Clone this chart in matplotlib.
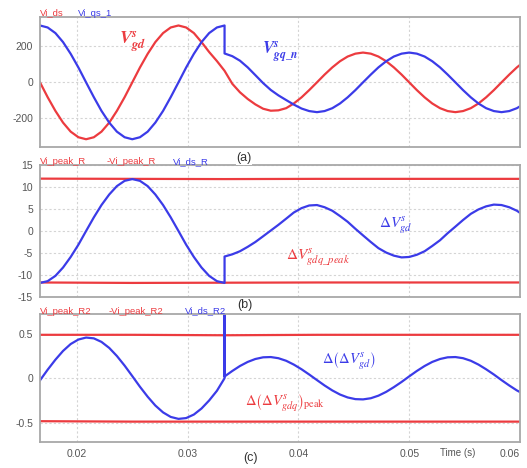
import numpy as np
import matplotlib
matplotlib.use("Agg")
import matplotlib.pyplot as plt

plt.rcParams['font.family'] = ['Liberation Sans', 'DejaVu Sans']
plt.rcParams['axes.unicode_minus'] = False

# ---------------- data ----------------
t_ms = [16.67, 17.36, 18.06, 18.75, 19.44, 20.14, 20.83, 21.53, 22.22, 22.92,
        23.61, 24.31, 25.00, 25.69, 26.39, 27.08, 27.78, 28.47, 29.17, 29.86,
        30.56, 31.25, 31.94, 32.64, 33.33, 33.33, 33.33, 34.03, 34.72, 35.42,
        36.11, 36.81, 37.50, 38.19, 38.89, 39.58, 40.28, 40.97, 41.67, 42.36,
        43.06, 43.75, 44.44, 45.14, 45.83, 46.53, 47.22, 47.92, 48.61, 49.31,
        50.00, 50.69, 51.39, 52.08, 52.78, 53.47, 54.17, 54.86, 55.56, 56.25,
        56.94, 57.64, 58.33, 59.03, 59.72, 60.42]

vi_ds = [0, -82, -158, -223, -273, -304, -315, -304, -273, -223,
         -158, -82, 0, 82, 158, 223, 273, 304, 315, 304,
         273, 223, 168, 118, 64, 64, 64, -8, -55, -92,
         -122, -146, -157, -155, -143, -117, -83, -43, 0, 43,
         83, 117, 143, 159, 165, 159, 143, 117, 83, 43,
         0, -43, -83, -117, -143, -159, -165, -159, -143, -117,
         -83, -43, 0, 43, 83, 117]

vi_qs_1 = [315, 304, 273, 223, 158, 82, 0, -82, -158, -223,
           -273, -304, -315, -304, -273, -223, -158, -82, 0, 82,
           158, 223, 273, 304, 315, 160, 160, 145, 120, 83,
           40, -4, -42, -72, -98, -123, -145, -159, -165, -159,
           -143, -117, -83, -43, 0, 43, 83, 117, 143, 159,
           165, 159, 143, 117, 83, 43, 0, -43, -83, -117,
           -143, -159, -165, -159, -143, -117]

vi_ds_R = [-11.8, -11.4, -10.2, -8.3, -5.9, -3.1, 0, 3.1, 5.9, 8.3,
           10.2, 11.4, 11.8, 11.4, 10.2, 8.3, 5.9, 3.1, 0, -3.1,
           -5.9, -8.3, -10.2, -11.4, -11.8, -5.8, -5.8, -5.3, -4.6, -3.6,
           -2.5, -1.2, 0.1, 1.4, 2.8, 4.2, 5.2, 5.8, 5.9, 5.4,
           4.6, 3.4, 2.1, 0.5, -1.0, -2.5, -3.9, -4.9, -5.6, -6.0,
           -5.9, -5.4, -4.6, -3.4, -2.1, -0.5, 1.0, 2.5, 3.9, 4.9,
           5.6, 6.0, 5.9, 5.4, 4.6, 3.4]

vi_ds_R2 = [-0.024, 0.096, 0.209, 0.308, 0.386, 0.437, 0.459, 0.450, 0.410, 0.342,
            0.251, 0.142, 0.024, -0.096, -0.209, -0.308, -0.386, -0.437, -0.459, -0.450,
            -0.410, -0.342, -0.251, -0.142, 0.0, 0.75, 0.02, 0.082, 0.138, 0.184,
            0.217, 0.236, 0.239, 0.226, 0.197, 0.154, 0.101, 0.042, -0.021, -0.082,
            -0.138, -0.184, -0.217, -0.236, -0.239, -0.226, -0.197, -0.154, -0.101, -0.042,
            0.021, 0.082, 0.138, 0.184, 0.217, 0.236, 0.239, 0.226, 0.197, 0.154,
            0.101, 0.042, -0.021, -0.082, -0.138, -0.184]

t_peak_ms = [16.67, 25.0, 33.33, 41.67, 50.0, 60.42]
vi_peak_R = [11.9, 11.85, 11.8, 11.85, 11.85, 11.85]
neg_vi_peak_R = [-11.7, -11.8, -11.75, -11.7, -11.7, -11.7]
vi_peak_R2 = [0.49, 0.49, 0.485, 0.49, 0.49, 0.49]
neg_vi_peak_R2 = [-0.485, -0.49, -0.49, -0.49, -0.49, -0.49]

xticks = [0.02, 0.03, 0.04, 0.05, 0.06]
xticklabels = ['0.02', '0.03', '0.04', '0.05', '0.06']
yticks_a = [-200, 0, 200]
yticks_b = [-15, -10, -5, 0, 5, 10, 15]
yticks_c = [-0.5, 0, 0.5]

# ---------------- styling ----------------
W, H = 527, 468
RED = '#ec3b3f'
BLUE = '#3b3be8'
SPINE = '#a8a8a8'
GRID = '#d4d4d4'
TICKC = '#555555'

t = np.array(t_ms) / 1000.0
tp = np.array(t_peak_ms) / 1000.0

fig = plt.figure(figsize=(W / 100, H / 100), dpi=100)


def add_ax(top, bottom, left=40, right=520):
    return fig.add_axes([left / W, 1 - bottom / H, (right - left) / W, (bottom - top) / H])


def style(ax, ylim, yticks, ylabels, show_x=False):
    ax.set_xlim(0.01667, 0.06)
    ax.set_ylim(*ylim)
    ax.set_xticks(xticks)
    ax.set_yticks(yticks)
    ax.set_yticklabels(ylabels)
    if show_x:
        ax.set_xticklabels(xticklabels)
        labs = ax.get_xticklabels()
        labs[-1].set_ha('right')
    else:
        ax.set_xticklabels([])
    ax.tick_params(length=0, labelsize=7.5, colors=TICKC, pad=5)
    for s in ax.spines.values():
        s.set_color(SPINE)
        s.set_linewidth(1.3)
    ax.grid(True, color=GRID, linestyle=(0, (2, 2)), linewidth=0.8)
    ax.set_axisbelow(True)


def ftext(x, y, s, **kw):
    fig.text(x / W, 1 - y / H, s, **kw)


# Panel (a)
ax1 = add_ax(17, 147)
ax1.plot(t, vi_ds, color=RED, lw=1.6)
ax1.plot(t, vi_qs_1, color=BLUE, lw=1.6)
style(ax1, (-358, 362), yticks_a, ['-200', '0', '200'])

# Panel (b)
ax2 = add_ax(165, 297)
ax2.plot(tp, vi_peak_R, color=RED, lw=1.6)
ax2.plot(tp, neg_vi_peak_R, color=RED, lw=1.6)
ax2.plot(t, vi_ds_R, color=BLUE, lw=1.6)
style(ax2, (-15, 15), yticks_b, ['-15', '-10', '-5', '0', '5', '10', '15'])

# Panel (c)
ax3 = add_ax(314, 442)
ax3.plot(tp, vi_peak_R2, color=RED, lw=1.6)
ax3.plot(tp, neg_vi_peak_R2, color=RED, lw=1.6)
ax3.plot(t, vi_ds_R2, color=BLUE, lw=1.6)
style(ax3, (-0.72, 0.725), yticks_c, ['-0.5', '0', '0.5'], show_x=True)

# legend-like labels
lkw = dict(fontsize=6.8, va='center', ha='left')
ftext(40, 13, 'Vi_ds', color=RED, **lkw)
ftext(78, 13, 'Vi_qs_1', color=BLUE, **lkw)
ftext(40, 162, 'Vi_peak_R', color=RED, **lkw)
ftext(107, 162, '-Vi_peak_R', color=RED, **lkw)
ftext(173, 162, 'Vi_ds_R', color=BLUE, **lkw)
ftext(40, 311, 'Vi_peak_R2', color=RED, **lkw)
ftext(109, 311, '-Vi_peak_R2', color=RED, **lkw)
ftext(185, 311, 'Vi_ds_R2', color=BLUE, **lkw)

# panel tags
pkw = dict(fontsize=9, va='center', ha='center', color='#333333',
           bbox=dict(facecolor='white', edgecolor='none', pad=0.5))
ftext(244, 158, '(a)', **pkw)
ftext(245, 305, '(b)', **pkw)
ftext(250, 458, '(c)', **pkw)
ftext(458, 453, 'Time (s)', fontsize=7, va='center', ha='center', color=TICKC)

# annotations
mkw = dict(math_fontfamily='stix', va='center', ha='left')
ftext(119, 42, r'$\mathbfit{V}_{\mathbfit{gd}}^{\mathbfit{s}}$', color=RED, fontsize=13, **mkw)
ftext(262, 52, r'$\mathbfit{V}_{\mathbfit{gq\_n}}^{\mathbfit{s}}$', color=BLUE, fontsize=12, **mkw)
ftext(379, 225, r'$\Delta V_{gd}^{s}$', color=BLUE, fontsize=11, **mkw)
ftext(286, 257, r'$\Delta V_{gdq\_peak}^{s}$', color=RED, fontsize=11, **mkw)
ftext(322, 361, r'$\Delta\left(\Delta V_{gd}^{s}\right)$', color=BLUE, fontsize=10.5, **mkw)
ftext(245, 403, r'$\Delta\left(\Delta V_{gdq}^{s}\right)_{\mathrm{peak}}$', color=RED, fontsize=10.5, **mkw)

fig.savefig('out.png', dpi=100)
